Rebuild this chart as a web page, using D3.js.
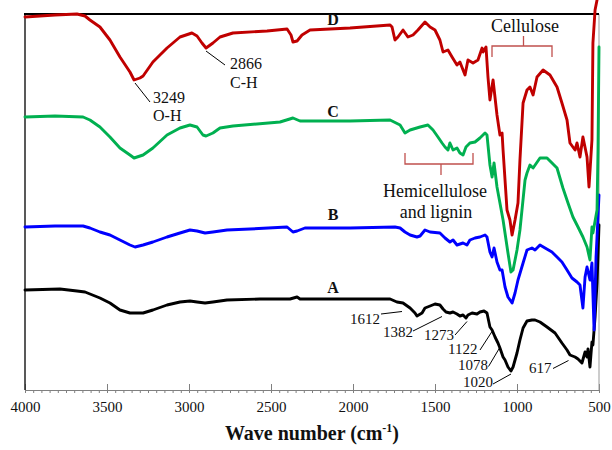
<!DOCTYPE html>
<html>
<head>
<meta charset="UTF-8">
<title>FTIR spectra A-D</title>
<script src="https://cdnjs.cloudflare.com/ajax/libs/d3/7.8.5/d3.min.js"></script>
<style>
body{margin:0;background:#fff;}
text{font-family:"Liberation Serif","Times New Roman",serif;fill:#111;}
.tag{font-size:16px;font-weight:bold;}
.peak{font-size:15px;}
.note{font-size:16px;}
.group{font-size:18px;}
.axis text{font-size:15px;font-family:"Liberation Serif","Times New Roman",serif;fill:#111;}
.axis path,.axis line{stroke:#808080;}
.title{font-size:20px;font-weight:bold;}
.spec{fill:none;stroke-width:2.9;stroke-linejoin:round;stroke-linecap:round;}
</style>
</head>
<body>
<div id="chart"></div>
<script>
// spectra, [wave number cm-1, transmittance a.u. (offset stacked)]
var specA=[[4000,100],[3787,101],[3683,99],[3634,98],[3543,92],[3482,87],[3421,80],[3360,77],[3280,77],[3220,80],[3134,85],[3055,88],[2994,89],[2951,88],[2902,87],[2854,88],[2768,90],[2567,91],[2384,91],[2341,93],[2323,91],[1774,91],[1732,88],[1695,87],[1652,82],[1622,77],[1610,74],[1579,77],[1561,82],[1530,84],[1500,86],[1470,85],[1451,81],[1433,78],[1409,77],[1390,78],[1366,76],[1348,74],[1329,75],[1311,72],[1299,75],[1274,77],[1244,76],[1226,78],[1201,79],[1183,77],[1165,63],[1152,60],[1134,53],[1116,47],[1104,42],[1085,33],[1073,30],[1055,23],[1037,19],[1024,23],[1000,37],[982,50],[963,62],[939,69],[909,70],[890,70],[860,68],[817,63],[768,57],[726,47],[695,40],[677,35],[646,33],[628,31],[604,27],[585,38],[573,33],[567,41],[555,23],[543,48],[537,45],[524,73],[512,107],[500,165]];

var specB=[[4000,163],[3817,164],[3646,164],[3604,162],[3543,158],[3482,155],[3421,150],[3360,145],[3329,143],[3280,145],[3220,148],[3134,153],[3055,157],[2994,160],[2951,159],[2902,157],[2854,158],[2768,160],[2628,161],[2402,163],[2366,158],[2341,159],[2293,162],[2018,162],[1744,163],[1713,162],[1683,158],[1652,155],[1610,153],[1591,154],[1561,160],[1530,158],[1470,157],[1439,152],[1409,148],[1390,150],[1366,145],[1329,147],[1305,145],[1287,150],[1256,152],[1226,153],[1195,155],[1183,153],[1165,138],[1152,133],[1140,142],[1122,128],[1104,120],[1091,120],[1073,103],[1055,93],[1030,87],[1012,97],[994,110],[963,127],[939,140],[909,142],[890,140],[860,145],[829,142],[787,138],[756,133],[726,128],[695,120],[665,112],[634,108],[616,105],[598,82],[585,113],[573,123],[555,110],[543,127],[530,60],[518,133],[512,153],[500,195]];

var specC=[[4000,273],[3817,274],[3646,273],[3604,270],[3543,263],[3482,253],[3421,242],[3360,235],[3335,232],[3280,235],[3220,242],[3134,255],[3055,262],[2994,265],[2951,263],[2915,255],[2896,254],[2854,257],[2811,262],[2732,264],[2445,268],[2366,272],[2323,269],[2018,269],[1774,270],[1713,265],[1683,257],[1652,260],[1591,263],[1543,265],[1512,260],[1482,253],[1457,247],[1439,243],[1421,240],[1409,247],[1390,240],[1366,242],[1348,237],[1329,235],[1311,243],[1287,247],[1256,248],[1226,252],[1195,257],[1183,255],[1165,225],[1152,213],[1140,227],[1122,203],[1104,187],[1085,170],[1055,137],[1037,118],[1024,120],[1000,140],[982,160],[951,210],[939,217],[921,225],[902,222],[860,232],[817,232],[756,222],[720,202],[689,187],[659,173],[628,163],[598,153],[573,143],[555,130],[543,163],[537,157],[512,180],[506,240],[500,343]];

var specD=[[4000,373],[3909,374],[3817,375],[3683,376],[3634,374],[3604,370],[3543,363],[3482,350],[3421,333],[3360,318],[3335,310],[3299,312],[3280,314],[3220,328],[3134,342],[3055,353],[2982,357],[2951,354],[2921,347],[2896,342],[2854,347],[2811,353],[2732,357],[2524,359],[2402,361],[2378,355],[2366,348],[2341,349],[2311,355],[2262,360],[2018,362],[1774,365],[1762,363],[1744,350],[1726,353],[1695,360],[1665,353],[1634,355],[1604,360],[1561,368],[1530,363],[1500,360],[1470,350],[1451,338],[1421,340],[1396,333],[1366,325],[1348,328],[1317,315],[1299,330],[1268,327],[1238,330],[1213,342],[1207,338],[1189,343],[1177,313],[1165,290],[1146,310],[1122,275],[1104,255],[1091,257],[1085,240],[1067,195],[1061,180],[1043,170],[1030,155],[1012,170],[994,187],[982,230],[963,287],[939,300],[921,303],[902,295],[878,313],[841,320],[799,315],[756,303],[726,287],[695,270],[677,247],[646,240],[634,247],[616,233],[598,253],[573,233],[561,203],[543,250],[537,347],[524,380],[500,400]];

var series=[
  {name:"A",data:specA,color:"#000000"},
  {name:"B",data:specB,color:"#0000ff"},
  {name:"C",data:specC,color:"#00b050"},
  {name:"D",data:specD,color:"#c00000"}
];
var majorTicks=[4000,3500,3000,2500,2000,1500,1000,500];

var width=612,height=450;
var pLeft=25,pRight=599,pTop=14,pBottom=390;

var svg=d3.select("#chart").append("svg").attr("width",width).attr("height",height);

var x=d3.scaleLinear().domain([4000,500]).range([pLeft,pRight]);
var y=d3.scaleLinear().domain([0,376]).range([pBottom,pTop]);

// minor ticks every 50 cm-1, hanging under the axis
svg.append("g").attr("class","axis").attr("transform","translate(0,"+pBottom+")")
  .call(d3.axisBottom(x).tickValues(d3.range(500,4001,50)).tickSize(3).tickSizeOuter(0).tickFormat(""));
svg.append("g").attr("class","axis").attr("transform","translate(0,"+pBottom+")")
  .call(d3.axisBottom(x).tickValues(majorTicks).tickSizeInner(-6).tickSizeOuter(0).tickPadding(11).tickFormat(d3.format("d")))
  .selectAll("line").attr("y2",-6);

// frame
svg.append("line").attr("x1",pLeft).attr("x2",pLeft).attr("y1",pTop).attr("y2",pBottom).attr("stroke","#222").attr("stroke-width",1.5);
svg.append("line").attr("x1",pRight).attr("x2",pRight).attr("y1",pTop).attr("y2",pBottom).attr("stroke","#999").attr("stroke-width",1);
svg.append("line").attr("x1",pLeft-1).attr("x2",pRight).attr("y1",pTop).attr("y2",pTop).attr("stroke","#000").attr("stroke-width",2);

var line=d3.line().x(function(d){return x(d[0]);}).y(function(d){return y(d[1]);});

svg.selectAll(".spec").data(series).enter().append("path")
  .attr("class","spec")
  .attr("stroke",function(d){return d.color;})
  .attr("d",function(d){return line(d.data);});

// series letters
var tagY={A:293,B:220,C:117,D:25};
series.forEach(function(s){
  svg.append("text").attr("class","tag").attr("x",333).attr("y",tagY[s.name]).attr("text-anchor","middle").text(s.name);
});

// O-H and C-H notes on D
function note(x1,y1,x2,y2){
  svg.append("line").attr("x1",x1).attr("y1",y1).attr("x2",x2).attr("y2",y2).attr("stroke","#000").attr("stroke-width",1);
}
note(135,83,150,102);
svg.append("text").attr("class","note").attr("x",153).attr("y",103).text("3249");
svg.append("text").attr("class","note").attr("x",153).attr("y",121).text("O-H");
note(206,51,225,65);
svg.append("text").attr("class","note").attr("x",230).attr("y",69).text("2866");
svg.append("text").attr("class","note").attr("x",230).attr("y",88).text("C-H");

// brackets
var br="#c0504d";
svg.append("path").attr("d","M492,57 L492,46 L523.5,46 L523.5,36 M523.5,46 L552,46 L552,57")
  .attr("fill","none").attr("stroke",br).attr("stroke-width",1.3);
svg.append("text").attr("class","group").attr("x",525).attr("y",32).attr("text-anchor","middle").text("Cellulose");

svg.append("path").attr("d","M405,153 L405,164 L441,164 L441,175 M441,164 L473,164 L473,153")
  .attr("fill","none").attr("stroke",br).attr("stroke-width",1.3);
svg.append("text").attr("class","group").attr("x",435).attr("y",197).attr("text-anchor","middle").text("Hemicellulose");
svg.append("text").attr("class","group").attr("x",436).attr("y",218).attr("text-anchor","middle").text("and lignin");

// peak labels on A
var peaks=[
  {t:"1612",tx:350,ty:323.5,l:[381,314,402,311.5]},
  {t:"1382",tx:383,ty:336.5,l:[413,331,442,316.5]},
  {t:"1273",tx:424,ty:340,l:[455,335,467,321.5]},
  {t:"1122",tx:448,ty:354,l:[480,350,492,331.5]},
  {t:"1078",tx:458,ty:370,l:[488.5,366.5,499.5,348]},
  {t:"1020",tx:463,ty:386.5,l:[493,384,511,374]},
  {t:"617",tx:529,ty:372.5,l:[553,368.5,568.5,360.5]}
];
peaks.forEach(function(p){
  svg.append("text").attr("class","peak").attr("x",p.tx).attr("y",p.ty).text(p.t);
  note(p.l[0],p.l[1],p.l[2],p.l[3]);
});

// x title
var t=svg.append("text").attr("class","title").attr("x",312).attr("y",440).attr("text-anchor","middle");
t.append("tspan").text("Wave number (cm");
t.append("tspan").attr("font-size","12px").attr("dy",-8).text("-1");
t.append("tspan").attr("dy",8).text(")");
</script>
</body>
</html>
